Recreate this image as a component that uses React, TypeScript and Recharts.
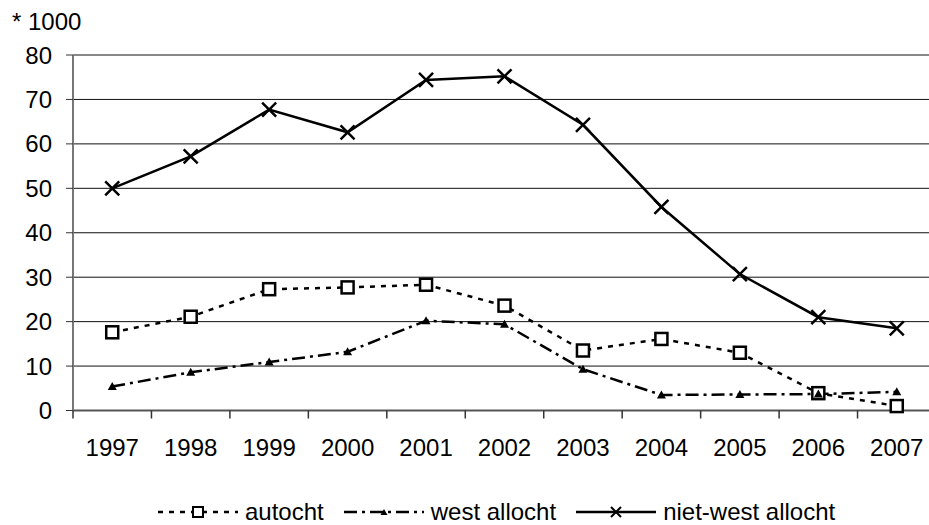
import React from 'react';
import { ComposedChart, Line, XAxis, YAxis, CartesianGrid, Legend } from 'recharts';

const years = ['1997', '1998', '1999', '2000', '2001', '2002', '2003', '2004', '2005', '2006', '2007'];
const autocht = [17.6, 21.1, 27.3, 27.7, 28.3, 23.6, 13.5, 16.1, 13.0, 3.9, 1.0];
const westAllocht = [5.4, 8.6, 10.9, 13.2, 20.2, 19.4, 9.3, 3.5, 3.6, 3.7, 4.2];
const nietWestAllocht = [50.0, 57.2, 67.7, 62.6, 74.4, 75.2, 64.3, 45.8, 30.7, 21.0, 18.5];
const yTicks = [0, 10, 20, 30, 40, 50, 60, 70, 80];

const data = years.map((year, i) => ({
  year,
  autocht: autocht[i],
  west: westAllocht[i],
  nietWest: nietWestAllocht[i],
}));

const FONT = '"Liberation Sans", Arial, sans-serif';

function SquareDot(props: any) {
  const { cx, cy } = props;
  if (cx == null || cy == null) return null;
  return <rect x={cx - 6} y={cy - 6} width={12} height={12} fill="#fff" stroke="#000" strokeWidth={2.5} />;
}

function TriangleDot(props: any) {
  const { cx, cy } = props;
  if (cx == null || cy == null) return null;
  return <path d={`M${cx - 4.5},${cy + 3.5} L${cx + 4.5},${cy + 3.5} L${cx},${cy - 4.5} Z`} fill="#000" />;
}

function CrossDot(props: any) {
  const { cx, cy } = props;
  if (cx == null || cy == null) return null;
  return (
    <path
      d={`M${cx - 7},${cy - 7} L${cx + 7},${cy + 7} M${cx - 7},${cy + 7} L${cx + 7},${cy - 7}`}
      stroke="#000"
      strokeWidth={2.5}
      fill="none"
    />
  );
}

// Excel style: ticks sit on category boundaries, labels in the middle
function YearTick(props: any) {
  const { x, y, payload } = props;
  const off = payload && payload.offset ? payload.offset : 0;
  return (
    <g>
      <line x1={x - off} x2={x - off} y1={y - 8} y2={y} stroke="#333" strokeWidth={1.5} />
      <text x={x} y={y} dy={37} textAnchor="middle" fontSize={24} fill="#000" fontFamily={FONT}>
        {payload.value}
      </text>
    </g>
  );
}

const legendItems = [
  { label: 'autocht', dash: '5 6', marker: 'square' },
  { label: 'west allocht', dash: '13 5 3 5', marker: 'triangle' },
  { label: 'niet-west allocht', dash: undefined, marker: 'cross' },
];

function LegendMarker({ kind }: { kind: string }) {
  if (kind === 'square') return <rect x={35} y={5} width={10} height={10} fill="#fff" stroke="#000" strokeWidth={2} />;
  if (kind === 'triangle') return <path d="M36.5,13 L43.5,13 L40,7 Z" fill="#000" />;
  return <path d="M35,5 L45,15 M35,15 L45,5" stroke="#000" strokeWidth={2} fill="none" />;
}

function LegendContent() {
  return (
    <div style={{ display: 'flex', alignItems: 'center', height: 22, fontFamily: FONT, fontSize: 24, lineHeight: '22px', whiteSpace: 'nowrap', color: '#000' }}>
      {legendItems.map((it) => (
        <div key={it.label} style={{ display: 'flex', alignItems: 'center', marginRight: 20 }}>
          <svg width={80} height={20} style={{ display: 'block' }}>
            <line x1={0} x2={80} y1={10} y2={10} stroke="#000" strokeWidth={2.5} strokeDasharray={it.dash} />
            <LegendMarker kind={it.marker} />
          </svg>
          <span style={{ marginLeft: 7 }}>{it.label}</span>
        </div>
      ))}
    </div>
  );
}

export default function App() {
  return (
    <div style={{ position: 'absolute', left: 0, top: 0, width: 929, height: 525, overflow: 'hidden', background: '#fff' }}>
      <div style={{ position: 'absolute', left: 12, top: 8, fontFamily: FONT, fontSize: 24, color: '#000', whiteSpace: 'pre' }}>
        * 1000
      </div>
      <ComposedChart width={941} height={525} data={data} margin={{ top: 55, right: 5, bottom: 0, left: 0 }}>
        <CartesianGrid vertical={false} stroke="#111" strokeWidth={1} />
        <XAxis
          dataKey="year"
          scale="band"
          height={92.5}
          interval={0}
          tickSize={8}
          tickMargin={0}
          tickLine={false}
          axisLine={{ stroke: '#555', strokeWidth: 2 }}
          tick={<YearTick />}
        />
        <YAxis
          domain={[0, 80]}
          ticks={yTicks}
          width={73}
          tickSize={7}
          tickMargin={14}
          interval={0}
          axisLine={{ stroke: '#777', strokeWidth: 2 }}
          tickLine={{ stroke: '#333' }}
          tick={{ fontSize: 24, fill: '#000', fontFamily: FONT }}
        />
        <Legend verticalAlign="bottom" content={<LegendContent />} wrapperStyle={{ left: 158, top: 500.5, width: 760 }} />
        <Line
          type="linear"
          dataKey="autocht"
          stroke="#000"
          strokeWidth={2.5}
          strokeDasharray="5 6"
          dot={<SquareDot />}
          activeDot={false}
          isAnimationActive={false}
        />
        <Line
          type="linear"
          dataKey="west"
          stroke="#000"
          strokeWidth={2.5}
          strokeDasharray="13 5 3 5"
          dot={<TriangleDot />}
          activeDot={false}
          isAnimationActive={false}
        />
        <Line
          type="linear"
          dataKey="nietWest"
          stroke="#000"
          strokeWidth={2.5}
          dot={<CrossDot />}
          activeDot={false}
          isAnimationActive={false}
        />
      </ComposedChart>
    </div>
  );
}
